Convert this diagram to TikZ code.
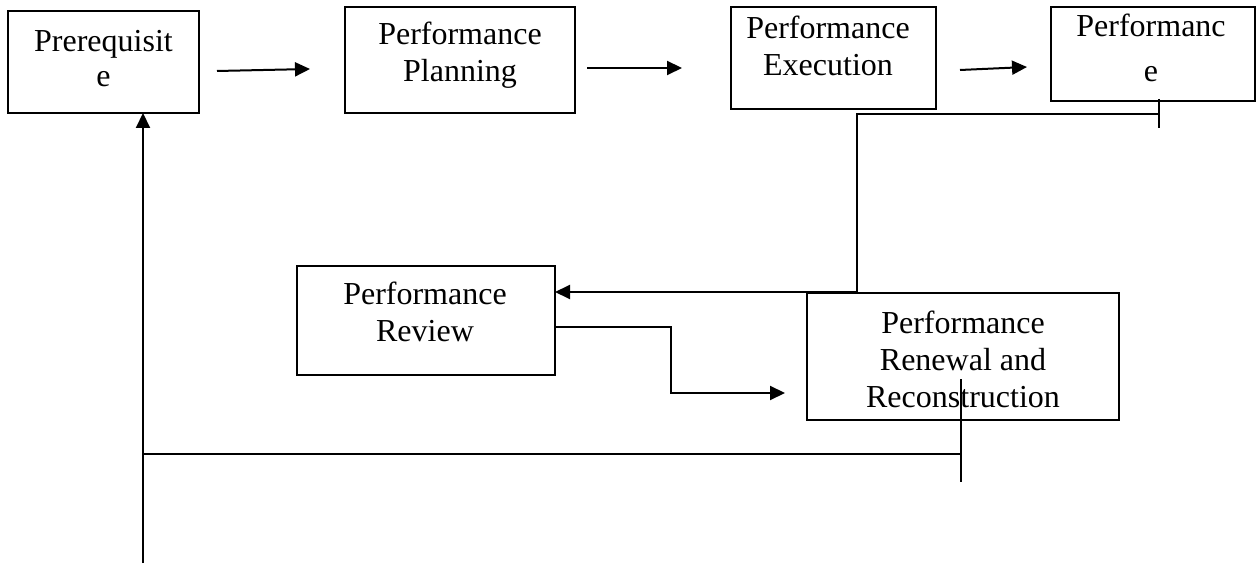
\documentclass[tikz,border=0pt]{standalone}
\usepackage{fontspec}
\setmainfont{Liberation Serif}
\usetikzlibrary{arrows.meta}

\begin{document}
\begin{tikzpicture}[x=0.5pt,y=-0.5pt,
  box/.style={draw, line width=1pt, inner sep=0pt, outer sep=0pt},
  lbl/.style={align=center, anchor=base, inner sep=0pt,
    font=\fontsize{16pt}{18.5pt}\selectfont},
  link/.style={line width=1pt},
  thinlink/.style={line width=0.7pt},
  arr/.style={link, -{Triangle[length=7.5pt,width=7pt]}}]
\useasboundingbox (0,0) rectangle (1256,566);

% boxes
\node[box, minimum width=95.5pt, minimum height=51pt]  (pre)  at (103.5,62)  {};
\node[box, minimum width=115pt,  minimum height=53pt]  (plan) at (460,60)    {};
\node[box, minimum width=102.5pt,minimum height=51pt]  (exec) at (833.5,58)  {};
\node[box, minimum width=102pt,  minimum height=47pt]  (perf) at (1153,54)   {};
\node[box, minimum width=129pt,  minimum height=54.5pt](rev)  at (426,320.5) {};
\node[box, minimum width=156pt,  minimum height=63.5pt](ren)  at (963,356.5) {};

% box texts (anchored at the baseline of the last line)
\node[lbl, font=\fontsize{16pt}{17.5pt}\selectfont] (pre-t)  at (103.5,87) {Prerequisit\\e};
\node[lbl] (plan-t) at (460,82)  {Performance\\Planning};
\node[lbl] (exec-t) at (828,76)  {Performance\\Execution};
\node[lbl, font=\fontsize{16pt}{22.5pt}\selectfont] (perf-t) at (1151,82) {Performanc\\e};
\node[lbl] (rev-t)  at (425,342) {Performance\\Review};
\node[lbl] (ren-t)  at (963,407) {Performance\\Renewal and\\Reconstruction};

% top row arrows
\coordinate (a1s) at (217,71);  \coordinate (a1e) at (310,69);
\coordinate (a2s) at (587,68);  \coordinate (a2e) at (682,68);
\coordinate (a3s) at (960,70);  \coordinate (a3e) at (1027,67);
\draw[arr] (a1s) -- (a1e);
\draw[arr] (a2s) -- (a2e);
\draw[arr] (a3s) -- (a3e);

% feedback from the last stage to the review
\coordinate (fbtop) at (1159,99);
\coordinate (fbbot) at (1159,128);
\coordinate (fbmid) at (1159,114);
\coordinate (fbturn) at (857,114);
\coordinate (fbdown) at (857,292);
\draw[thinlink] (fbtop) -- (fbbot);
\draw[arr] (fbmid) -- (fbturn) -- (fbdown) -- (rev.east |- fbdown);

% review to renewal
\coordinate (r1) at (555,327);
\coordinate (r2) at (671,327);
\coordinate (r3) at (671,393);
\coordinate (r4) at (785,393);
\draw[arr] (r1) -- (r2) -- (r3) -- (r4);

% loop back to the prerequisite
\coordinate (lbtop) at (961,379);
\coordinate (lbbot) at (961,482);
\coordinate (lbmid) at (961,454);
\coordinate (lbleft) at (143,454);
\coordinate (lbstart) at (143,563);
\draw[thinlink] (lbtop) -- (lbbot);
\draw[thinlink] (lbmid) -- (lbleft);
\draw[arr] (lbstart) -- (pre.south -| lbstart);
\end{tikzpicture}
\end{document}
